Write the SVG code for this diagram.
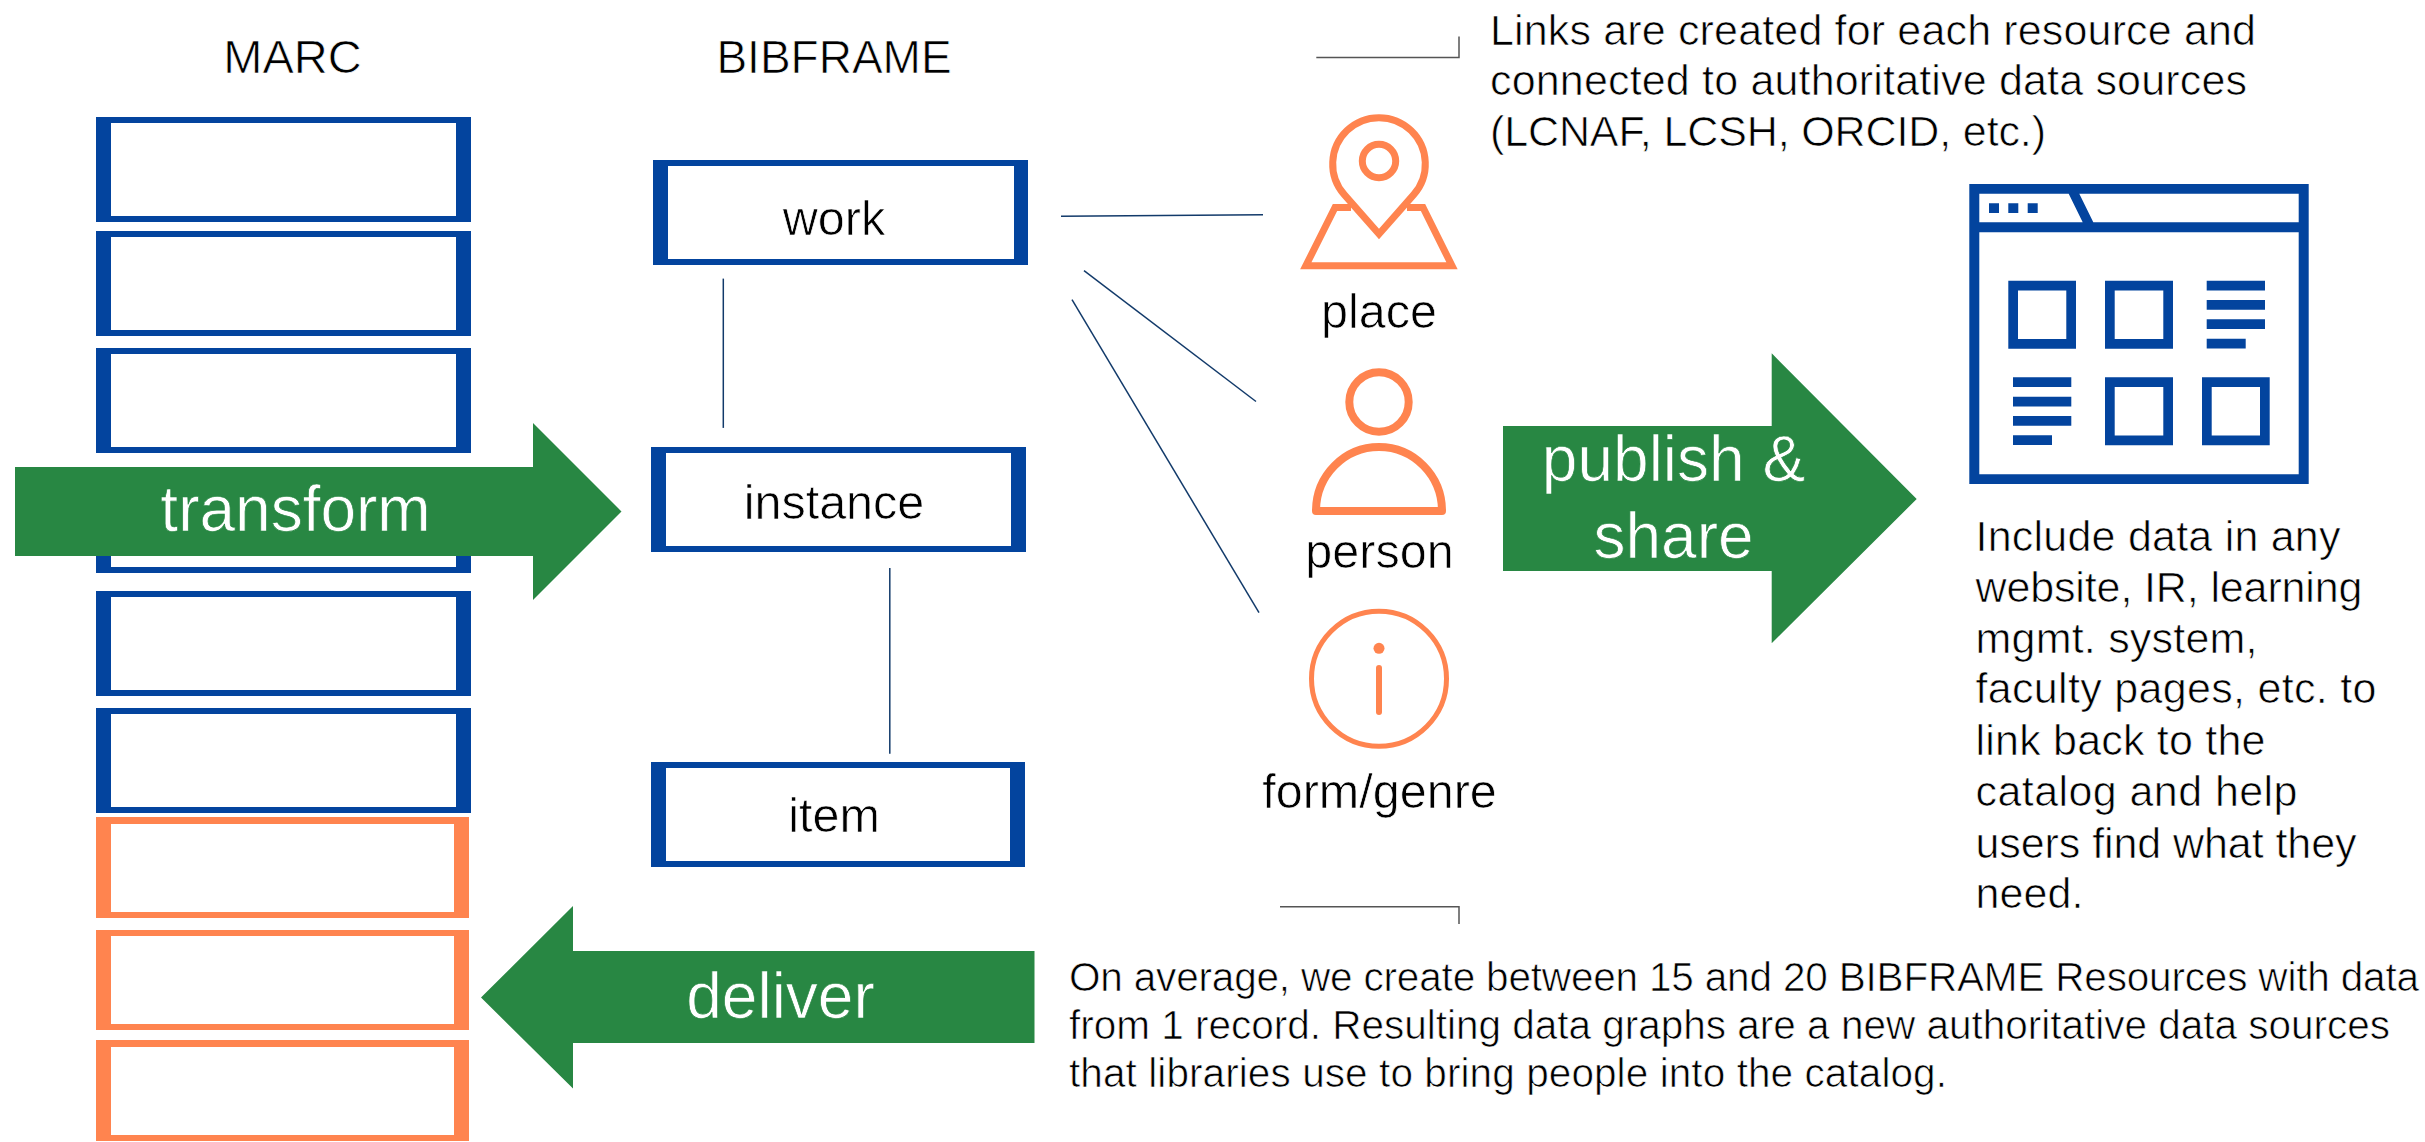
<svg xmlns="http://www.w3.org/2000/svg" width="2425" height="1142" viewBox="0 0 2425 1142">
<style>
text{font-family:"Liberation Sans",Arial,sans-serif;fill:#000;stroke:#fff;stroke-width:.7}
.m{text-anchor:middle}
.h{font-size:47px}
.l{font-size:48.500px}
.t{font-size:43px}
.s{font-size:40.500px}
.w{fill:#fff}
.a{font-size:64px;fill:#fff;stroke:#288743;text-anchor:middle}
.bl{fill:#03449e}
.or{fill:#ff844f}
.g{fill:#288743}
.oi{fill:none;stroke:#ff844f;stroke-width:7}
.c{fill:none;stroke:#123a6a;stroke-width:1.5}
.k{fill:none;stroke:#555;stroke-width:1.5}
</style>
<rect width="2425" height="1142" fill="#fff"/>
<g id="headers">
<text class="h m" x="292.500" y="73">MARC</text>
<text class="h m" x="834" y="73" style="font-size:46px">BIBFRAME</text>
</g>
<g id="marc-stack">
<g id="marc1"><rect class="bl" x="96" y="117" width="375" height="105"/><rect class="w" x="111" y="123" width="345" height="93"/></g>
<g id="marc2"><rect class="bl" x="96" y="231" width="375" height="105"/><rect class="w" x="111" y="237" width="345" height="93"/></g>
<g id="marc3"><rect class="bl" x="96" y="348" width="375" height="105"/><rect class="w" x="111" y="354" width="345" height="93"/></g>
<g id="marc4"><rect class="bl" x="96" y="468" width="375" height="105"/><rect class="w" x="111" y="474" width="345" height="93"/></g>
<g id="marc5"><rect class="bl" x="96" y="591" width="375" height="105"/><rect class="w" x="111" y="597" width="345" height="93"/></g>
<g id="marc6"><rect class="bl" x="96" y="708" width="375" height="105"/><rect class="w" x="111" y="714" width="345" height="93"/></g>
<g id="marc7"><rect class="or" x="96" y="817" width="373" height="101"/><rect class="w" x="111" y="824" width="343" height="88"/></g>
<g id="marc8"><rect class="or" x="96" y="930" width="373" height="100"/><rect class="w" x="111" y="936" width="343" height="88"/></g>
<g id="marc9"><rect class="or" x="96" y="1040" width="373" height="101"/><rect class="w" x="111" y="1047" width="343" height="88"/></g>
</g>
<g id="connectors">
<path class="c" d="M1061 216.200L1263 214.700"/>
<path class="c" d="M1084 270.600L1256 401.500"/>
<path class="c" d="M1072 299.700L1259 612.700"/>
<path class="c" d="M723.300 278.600V427.900"/>
<path class="c" d="M889.800 568V753.800"/>
<path class="k" d="M1316.300 57.400H1459V36.400"/>
<path class="k" d="M1280 906.700H1459V924"/>
</g>
<g id="work"><rect class="bl" x="653" y="160" width="375" height="105"/><rect class="w" x="668" y="166" width="346" height="93"/><text class="l m" x="834" y="234.500">work</text></g>
<g id="instance"><rect class="bl" x="651" y="447" width="375" height="105"/><rect class="w" x="666" y="453" width="345" height="93"/><text class="l m" x="834" y="519">instance</text></g>
<g id="item"><rect class="bl" x="651" y="762" width="374" height="105"/><rect class="w" x="666" y="768" width="344" height="93"/><text class="l m" x="834" y="831.500">item</text></g>
<g id="transform"><path class="g" d="M15 467H533V423L621.500 511.500L533 600V556H15Z"/><text class="a" x="295.500" y="531">transform</text></g>
<g id="deliver"><path class="g" d="M1034.500 951H573V906L481 997.500L573 1088.500V1043H1034.500Z"/><text class="a" x="780.500" y="1017.500">deliver</text></g>
<g id="publish"><path class="g" d="M1503 426H1771.700V353.300L1916.700 499L1771.700 643.300V571H1503Z"/><text class="a" x="1673.500" y="480.700">publish &amp;</text><text class="a" x="1673.500" y="558.300">share</text></g>
<g id="place"><path class="oi" d="M1379 234L1344.300 194.600A46.300 46.300 0 1 1 1413.700 194.600Z"/><circle class="oi" cx="1379" cy="161" r="16.700"/><path class="oi" d="M1351 207.500H1335L1305.800 265.800H1452L1423 207.500H1407"/><text class="l m" x="1379" y="328">place</text></g>
<g id="person"><circle class="oi" cx="1379" cy="402" r="29.700" style="stroke-width:8"/><path class="oi" d="M1316 511A63 64 0 0 1 1442 511Z" style="stroke-width:8;stroke-linejoin:round"/><text class="l m" x="1379.500" y="568">person</text></g>
<g id="form-genre"><circle class="oi" cx="1379" cy="678.700" r="67.500" style="stroke-width:5"/><circle class="or" cx="1379" cy="648.300" r="5.500"/><path class="oi" d="M1379 668V712" style="stroke-width:6;stroke-linecap:round"/><text class="l m" x="1379.500" y="808">form/genre</text></g>
<g id="browser">
<path class="bl" fill-rule="evenodd" d="M1969.300 184H2308.700V484H1969.300ZM1979.300 193.700V222.300H2082.700L2068.700 193.700ZM2079.300 193.700L2093.300 222.300H2298.700V193.700ZM1979.300 232.300V474.300H2298.700V232.300Z"/>
<path class="bl" d="M1989 203.300h10v9.700h-10zM2008.300 203.300h10v9.700h-10zM2027.700 203.300h10v9.700h-10z"/>
<path class="bl" fill-rule="evenodd" d="M2008.300 280.700h67.700v68h-67.700zM2018 290.400v48.600h48.300v-48.600zM2105 280.700h68v68h-68zM2114.700 290.400v48.600h48.600v-48.600zM2105 377.300h68v68h-68zM2114.700 387v48.600h48.600V387zM2202 377.300h67.700v68H2202zM2211.700 387v48.600h48.300V387z"/>
<path class="bl" d="M2206.700 280.700h58.300v9.700h-58.300zM2206.700 300h58.300v9.700h-58.300zM2206.700 319.300h58.300V329h-58.300zM2206.700 338.700h39v9.700h-39zM2013 377.300h58.300V387H2013zM2013 396.700h58.300v9.700H2013zM2013 416h58.300v9.700H2013zM2013 435.300h39V445h-39z"/>
</g>
<g id="note-links">
<text class="t" x="1490" y="45" textLength="766">Links are created for each resource and</text>
<text class="t" x="1490" y="95" textLength="757">connected to authoritative data sources</text>
<text class="t" x="1490" y="146" textLength="556">(LCNAF, LCSH, ORCID, etc.)</text>
</g>
<g id="note-include">
<text class="t" x="1975.500" y="551" textLength="365">Include data in any</text>
<text class="t" x="1975.500" y="601.700" textLength="387">website, IR, learning</text>
<text class="t" x="1975.500" y="652.700" textLength="282">mgmt. system,</text>
<text class="t" x="1975.500" y="702.500" textLength="401">faculty pages, etc. to</text>
<text class="t" x="1975.500" y="755" textLength="290">link back to the</text>
<text class="t" x="1975.500" y="806" textLength="322">catalog and help</text>
<text class="t" x="1975.500" y="857.500" textLength="381">users find what they</text>
<text class="t" x="1975.500" y="908" textLength="108">need.</text>
</g>
<g id="note-average">
<text class="s" x="1069" y="991" textLength="1350">On average, we create between 15 and 20 BIBFRAME Resources with data</text>
<text class="s" x="1069" y="1038.700" textLength="1321">from 1 record. Resulting data graphs are a new authoritative data sources</text>
<text class="s" x="1069" y="1086.700" textLength="878">that libraries use to bring people into the catalog.</text>
</g>
</svg>
